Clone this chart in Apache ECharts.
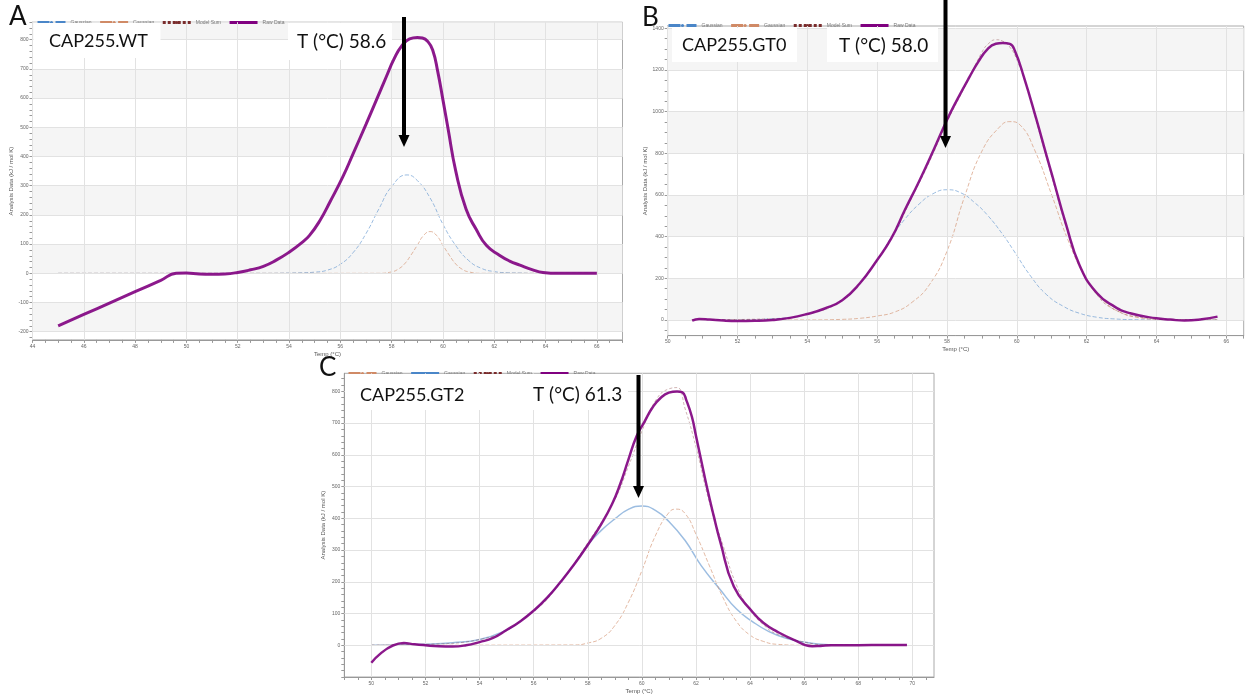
<!DOCTYPE html>
<html lang="en">
<head>
<meta charset="UTF-8" />
<title>CAP255 DSC fits</title>
<script src="https://cdn.jsdelivr.net/npm/echarts@6.0.0/dist/echarts.min.js"></script>
<style>
  html, body { margin: 0; padding: 0; background: #fff; }
  #chart { width: 1245px; height: 695px; }
</style>
</head>
<body>
<div id="chart"></div>
<script>
// ---------- panel A : CAP255.WT ----------
var aRawT = [45, 46, 47, 48, 49, 49.6, 50, 50.5, 51, 51.5, 52, 52.5, 53, 53.5, 54, 54.5, 54.8, 55.2, 55.6, 56.1, 56.5, 57, 57.4, 57.8, 58.1, 58.4, 58.7, 59, 59.2, 59.4, 59.6, 59.8, 60, 60.2, 60.5, 60.9, 61.3, 61.7, 62.2, 62.6, 63, 63.5, 63.9, 64.5, 65, 66];
var aRawV = [-180, -141, -102, -63, -24, 0, 1, -2, -3, -2, 3, 12, 24, 45, 72, 105, 130, 180, 245, 331, 410, 510, 592, 675, 735, 780, 803, 808, 806, 795, 765, 690, 594, 495, 350, 220, 150, 95, 62, 42, 28, 12, 3, 0, 0, 0];
var aG1T = [45, 53, 54, 54.5, 55, 55.5, 56, 56.5, 57, 57.5, 58, 58.6, 59, 59.5, 60, 60.5, 61, 61.5, 62, 62.5, 63, 63.5, 66];
var aG1V = [0, 0, 1, 2, 4, 11, 31, 71, 136, 220, 297, 337, 318, 258, 168, 95, 44, 17, 6, 2, 1, 0, 0];
var aG2T = [45, 57.5, 58, 58.25, 58.5, 58.75, 59, 59.25, 59.5, 59.75, 60, 60.25, 60.5, 60.75, 61, 61.5, 66];
var aG2V = [0, 0, 5, 14, 32, 62, 96, 130, 143, 130, 96, 62, 32, 14, 5, 0, 0];
var aSumT = [];
var aSumV = [];
var aLabelsX = [44, 46, 48, 50, 52, 54, 56, 58, 60, 62, 64, 66];
var aLabelsY = [-200, -100, 0, 100, 200, 300, 400, 500, 600, 700, 800];

// ---------- panel B : CAP255.GT0 ----------
var bRawT = [50.7, 50.9, 51.2, 51.6, 52, 52.5, 53, 53.5, 54, 54.5, 55, 55.5, 56, 56.4, 56.8, 57.2, 57.6, 58, 58.3, 58.65, 58.9, 59.15, 59.4, 59.6, 59.8, 59.95, 60.2, 60.55, 60.85, 61.05, 61.4, 61.8, 62.3, 62.8, 63.25, 64, 64.4, 64.8, 65.3, 65.75];
var bRawV = [-3, 5, 2, -3, -5, -4, 0, 10, 29, 55, 95, 175, 288, 390, 530, 665, 810, 960, 1060, 1168, 1240, 1298, 1326, 1330, 1325, 1290, 1168, 970, 790, 672, 465, 262, 128, 64, 32, 8, 2, -3, 3, 16];
var bG1T = [50.7, 52, 53, 54, 55, 55.5, 56, 56.4, 56.8, 57.2, 57.6, 58, 58.4, 58.8, 59.15, 59.6, 59.9, 60.4, 60.85, 61.35, 61.8, 62.3, 62.8, 63.5, 64.5, 65.75];
var bG1V = [0, 1, 6, 28, 95, 175, 285, 395, 485, 556, 606, 625, 610, 562, 505, 410, 336, 210, 122, 64, 32, 13, 5, 1, 0, 0];
var bG2T = [50.7, 54, 55, 55.5, 56, 56.5, 57, 57.5, 58, 58.5, 59, 59.5, 59.8, 60.1, 60.5, 61, 61.5, 62, 62.5, 63, 63.5, 64, 65, 65.75];
var bG2V = [0, 0, 3, 8, 19, 38, 85, 170, 330, 590, 810, 925, 952, 935, 820, 600, 370, 196, 89, 34, 11, 3, 0, 0];
var bSumT = [50.7, 53, 54, 55, 56, 56.5, 57, 57.5, 58, 58.5, 59, 59.2, 59.4, 59.6, 59.8, 60, 60.3, 60.6, 61, 61.4, 61.8, 62.3, 62.8, 63.5, 64.5, 65.75];
var bSumV = [0, 6, 28, 98, 288, 420, 590, 760, 950, 1115, 1285, 1328, 1345, 1338, 1310, 1250, 1110, 930, 690, 455, 265, 120, 50, 14, 2, 0];
var bLabelsX = [50, 52, 54, 56, 58, 60, 62, 64, 66];
var bLabelsY = [0, 200, 400, 600, 800, 1000, 1200, 1400];

// ---------- panel C : CAP255.GT2 ----------
var cRawT = [50, 51.2, 51.6, 52, 52.5, 53, 53.5, 54, 54.5, 55, 55.5, 56, 56.5, 57, 57.5, 58, 58.5, 58.9, 59.2, 59.5, 59.8, 60.1, 60.4, 60.7, 61, 61.3, 61.5, 61.65, 61.85, 62, 62.2, 62.4, 62.65, 62.9, 63.4, 64.1, 64.5, 65, 65.6, 66.3, 66.6, 67, 68, 69, 69.8];
var cRawV = [-55, 7, 3, 0, -3, -4, 0, 10, 23, 48, 75, 109, 150, 200, 255, 316, 382, 445, 508, 584, 658, 705, 750, 780, 796, 800, 797, 771, 720, 660, 580, 500, 410, 326, 185, 104, 70, 43, 18, -3, -2, 0, 0, 1, 1];
var cG1T = [50, 51, 52, 53, 54, 55, 55.5, 56, 56.5, 57, 57.5, 58, 58.5, 59, 59.5, 60, 60.5, 61, 61.6, 62.2, 62.9, 63.5, 64.1, 64.7, 65.3, 66, 66.6, 67.5, 69.8];
var cG1V = [0, 1, 3, 8, 18, 48, 75, 109, 150, 200, 255, 316, 362, 398, 428, 439, 425, 390, 330, 250, 175, 114, 74, 43, 23, 10, 3, 0, 0];
var cG2T = [50, 57.5, 58, 58.5, 59, 59.5, 60, 60.5, 61, 61.27, 61.6, 62, 62.5, 63, 63.5, 64, 64.5, 65, 66, 69.8];
var cG2V = [0, 1, 7, 22, 62, 135, 235, 345, 418, 429, 415, 350, 250, 150, 75, 32, 12, 3, 0, 0];
var cSumT = [50, 52, 54, 56, 57, 58, 59, 59.5, 60, 60.5, 61, 61.3, 61.6, 62, 62.5, 63, 63.5, 64, 64.5, 65, 66, 67, 69.8];
var cSumV = [0, 3, 18, 108, 201, 323, 460, 563, 674, 770, 808, 812, 745, 625, 450, 315, 189, 112, 64, 35, 10, 1, 0];
var cLabelsX = [50, 52, 54, 56, 58, 60, 62, 64, 66, 68, 70];
var cLabelsY = [0, 100, 200, 300, 400, 500, 600, 700, 800];

var legendNames = {
  aG1: "Gaussian", aG2: "Gaussian", aSum: "Model Sum", aRaw: "Raw Data",
  bG1: "Gaussian", bG2: "Gaussian", bSum: "Model Sum", bRaw: "Raw Data",
  cG1: "Gaussian", cG2: "Gaussian", cSum: "Model Sum", cRaw: "Raw Data"
};

var BLUE = "#4a86c8", ORANGE = "#d08a66", SUM = "#7a2c2c", PURPLE = "#800080";

function range(a, b, step) {
  var out = [];
  for (var v = a; v <= b + 1e-9; v += step) out.push(Math.round(v * 100) / 100);
  return out;
}
function pairs(t, v) {
  return t.map(function (x, i) { return [x, v[i]]; });
}
function line(name, idx, t, v, color, width, type, opacity, z) {
  return {
    name: name, type: "line", xAxisIndex: idx, yAxisIndex: idx,
    data: pairs(t, v), symbol: "none", showSymbol: false,
    smooth: 0.5, color: color, z: z,
    lineStyle: { color: color, width: width, type: type, opacity: opacity },
    silent: true, animation: false
  };
}
// grey bands every other step from 0 (step 0 = no bands), plus grid lines at label values
function bandSeries(idx, lo, hi, step, labelsX, labelsY) {
  var areas = [];
  if (step > 0) {
    for (var v = 0; v < hi; v += 2 * step) areas.push([{ yAxis: v }, { yAxis: Math.min(v + step, hi) }]);
    for (var w = -2 * step; w + step > lo; w -= 2 * step) areas.push([{ yAxis: Math.max(w, lo) }, { yAxis: w + step }]);
  }
  var lines = [];
  labelsX.forEach(function (x) { lines.push({ xAxis: x }); });
  labelsY.forEach(function (y) { lines.push({ yAxis: y }); });
  return {
    type: "line", xAxisIndex: idx, yAxisIndex: idx, data: [], z: 1, silent: true, animation: false,
    markArea: { silent: true, itemStyle: { color: "#f5f5f5" }, data: areas, animation: false },
    markLine: {
      silent: true, symbol: ["none", "none"], label: { show: false }, animation: false,
      lineStyle: { color: "#e2e2e2", width: 1, type: "solid" }, data: lines
    }
  };
}
function plain(v) { return String(v); }
function xAxis(idx, min, max, ticks, labels) {
  return {
    type: "value", gridIndex: idx, min: min, max: max,
    name: "Temp (°C)", nameLocation: "middle", nameGap: 11,
    nameTextStyle: { fontSize: 6, color: "#555", fontFamily: "Liberation Sans" },
    axisLine: { onZero: false, lineStyle: { color: "#999" } },
    axisTick: { customValues: ticks, length: 3, lineStyle: { color: "#999" } },
    axisLabel: { customValues: labels, formatter: plain, fontSize: 5, color: "#666", margin: 4, fontFamily: "Liberation Sans" },
    splitLine: { show: false }
  };
}
function yAxis(idx, min, max, ticks, labels) {
  return {
    type: "value", gridIndex: idx, min: min, max: max,
    name: "Analysis Data (kJ / mol K)", nameLocation: "middle", nameGap: 18,
    nameTextStyle: { fontSize: 6, color: "#555", fontFamily: "Liberation Sans" },
    axisLine: { show: true, onZero: false, lineStyle: { color: "#999" } },
    axisTick: { customValues: ticks, length: 3, lineStyle: { color: "#999" } },
    axisLabel: { customValues: labels, formatter: plain, fontSize: 5, color: "#666", margin: 4, fontFamily: "Liberation Sans" },
    splitLine: { show: false }
  };
}
function legend(left, top, names) {
  return {
    left: left, top: top, itemWidth: 28, itemHeight: 4, itemGap: 7, selectedMode: false,
    data: names, formatter: function (n) { return legendNames[n]; },
    lineStyle: { opacity: 1, width: 3 },
    textStyle: { fontSize: 5, color: "#777", fontFamily: "Liberation Sans" }
  };
}
function box(x, y, w, h) {
  return { type: "rect", z: 100, shape: { x: x, y: y, width: w, height: h }, style: { fill: "#fff" } };
}
function label(x, y, text, size) {
  return {
    type: "text", z: 101, x: x, y: y,
    style: { text: text, font: size + "px Lato", fill: "#111", align: "left", verticalAlign: "middle",
      textAlign: "left", textVerticalAlign: "middle" }
  };
}
function arrow(x, y0, y1) {
  return [
    { type: "rect", z: 102, shape: { x: x - 2, y: y0, width: 4, height: y1 - y0 - 10 }, style: { fill: "#000" } },
    { type: "polygon", z: 102, shape: { points: [[x - 5.5, y1 - 12], [x + 5.5, y1 - 12], [x, y1]] }, style: { fill: "#000" } }
  ];
}

var chart = echarts.init(document.getElementById("chart"), null, { renderer: "canvas" });

var graphics = [
  box(33.5, 23, 127, 35), box(288, 23, 104, 37),
  box(672, 28, 125, 34), box(827, 28, 111, 34),
  box(345, 374, 283, 36),
  label(49, 41, "CAP255.WT", 18), label(297, 42, "T (°C) 58.6", 19),
  label(682, 45, "CAP255.GT0", 18), label(839, 46, "T (°C) 58.0", 19),
  label(360, 395, "CAP255.GT2", 18), label(533, 395, "T (°C) 61.3", 19),
  label(9, 17, "A", 26), label(642, 18, "B", 26), label(319, 368, "C", 26)
].concat(arrow(404, 17, 147), arrow(945.5, 0, 148), arrow(638.5, 375, 498));

chart.setOption({
  animation: false,
  backgroundColor: "#fff",
  grid: [
    { left: 32.5, top: 22.2, width: 590, height: 317.7, show: true, borderColor: "#aaa", borderWidth: 1, backgroundColor: "#fff" },
    { left: 667.7, top: 26, width: 576, height: 309.6, show: true, borderColor: "#aaa", borderWidth: 1, backgroundColor: "#fff" },
    { left: 344.3, top: 373.3, width: 589.7, height: 315.8, show: true, borderColor: "#aaa", borderWidth: 1, backgroundColor: "#fff" }
  ],
  xAxis: [
    xAxis(0, 44, 67, range(44, 67, 0.5), aLabelsX),
    xAxis(1, 50, 66.5, range(50, 66.5, 0.5), bLabelsX),
    xAxis(2, 49, 70.8, range(49, 70.5, 0.5), cLabelsX)
  ],
  yAxis: [
    yAxis(0, -228, 860, range(-220, 860, 20), aLabelsY),
    yAxis(1, -75, 1411, range(-50, 1400, 50), bLabelsY),
    yAxis(2, -100, 857, range(-100, 840, 20), cLabelsY)
  ],
  legend: [
    legend(31, 15, ["aG1", "aG2", "aSum", "aRaw"]),
    legend(662, 18, ["bG1", "bG2", "bSum", "bRaw"]),
    legend(342, 366, ["cG2", "cG1", "cSum", "cRaw"])
  ],
  series: [
    bandSeries(0, -228, 860, 100, aLabelsX, aLabelsY),
    bandSeries(1, -75, 1411, 200, bLabelsX, bLabelsY),
    bandSeries(2, -100, 857, 0, cLabelsX, cLabelsY),

    line("aG1", 0, aG1T, aG1V, BLUE, 1, "dashed", 0.55, 2),
    line("aG2", 0, aG2T, aG2V, ORANGE, 1, "dashed", 0.6, 3),
    line("aSum", 0, aSumT, aSumV, SUM, 1, [3, 2], 0.4, 4),
    line("aRaw", 0, aRawT, aRawV, PURPLE, 3, "solid", 0.9, 5),

    line("bG1", 1, bG1T, bG1V, BLUE, 1, "dashed", 0.55, 2),
    line("bG2", 1, bG2T, bG2V, ORANGE, 1, "dashed", 0.6, 3),
    line("bSum", 1, bSumT, bSumV, SUM, 1, [3, 2], 0.35, 4),
    line("bRaw", 1, bRawT, bRawV, PURPLE, 2.5, "solid", 0.9, 5),

    line("cG2", 2, cG2T, cG2V, ORANGE, 1, "dashed", 0.6, 3),
    line("cG1", 2, cG1T, cG1V, BLUE, 1.5, "solid", 0.55, 2),
    line("cSum", 2, cSumT, cSumV, SUM, 1, [3, 2], 0.35, 4),
    line("cRaw", 2, cRawT, cRawV, PURPLE, 2.5, "solid", 0.9, 5)
  ],
  graphic: { elements: graphics }
});
</script>
</body>
</html>
